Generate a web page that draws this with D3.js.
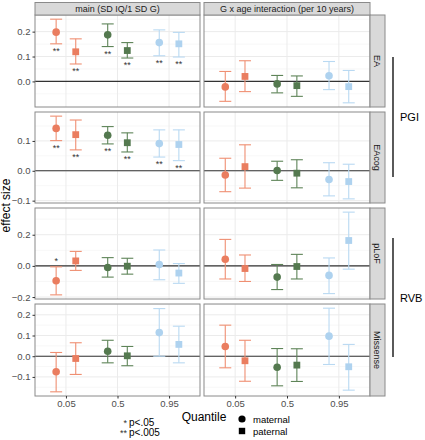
<!DOCTYPE html>
<html><head><meta charset="utf-8">
<script src="https://cdn.jsdelivr.net/npm/d3@7"></script>
<style>body{margin:0;background:#fff;} svg{display:block;font-family:"Liberation Sans",Arial,sans-serif;}</style>
</head><body>
<svg id="chart" width="425" height="440"></svg>
<script>
// ---------- data ----------
const quantiles = ["0.05", "0.5", "0.95"];
const parents = ["maternal", "paternal"];
const scores = ["EA", "EAcog", "pLoF", "Missense"];
const effects = ["main (SD IQ/1 SD G)", "G x age interaction (per 10 years)"];
const groups = ["PGI", "RVB"];
const groupScores = [["EA", "EAcog"], ["pLoF", "Missense"]];
// point order in each row: q0.05 mat, q0.05 pat, q0.5 mat, q0.5 pat, q0.95 mat, q0.95 pat
const mainEst = [
  [0.198, 0.119, 0.187, 0.124, 0.156, 0.151],
  [0.142, 0.121, 0.119, 0.094, 0.091, 0.088],
  [-0.095, 0.032, -0.010, -0.002, 0.009, -0.046],
  [-0.075, -0.011, 0.024, 0.002, 0.114, 0.057]
];
const mainLo = [
  [0.151, 0.070, 0.140, 0.094, 0.103, 0.098],
  [0.101, 0.070, 0.090, 0.063, 0.046, 0.034],
  [-0.186, -0.029, -0.072, -0.053, -0.089, -0.112],
  [-0.172, -0.088, -0.032, -0.046, 0.000, -0.032]
];
const mainHi = [
  [0.250, 0.171, 0.231, 0.156, 0.207, 0.197],
  [0.183, 0.170, 0.148, 0.127, 0.137, 0.137],
  [-0.006, 0.093, 0.053, 0.049, 0.102, 0.015],
  [0.018, 0.065, 0.077, 0.047, 0.230, 0.145]
];
const intEst = [
  [-0.022, 0.020, -0.010, -0.017, 0.023, -0.021],
  [-0.014, 0.014, 0.001, -0.008, -0.029, -0.036],
  [0.043, -0.017, -0.072, -0.004, -0.061, 0.163],
  [0.047, -0.022, -0.053, -0.043, 0.097, -0.051]
];
const intLo = [
  [-0.080, -0.041, -0.046, -0.060, -0.033, -0.086],
  [-0.070, -0.058, -0.032, -0.057, -0.084, -0.094],
  [-0.084, -0.100, -0.152, -0.084, -0.178, -0.021],
  [-0.056, -0.121, -0.143, -0.122, -0.040, -0.164]
];
const intHi = [
  [0.040, 0.083, 0.024, 0.022, 0.080, 0.044],
  [0.042, 0.087, 0.032, 0.037, 0.027, 0.022],
  [0.170, 0.070, 0.009, 0.074, 0.051, 0.345],
  [0.150, 0.077, 0.037, 0.036, 0.232, 0.057]
];
const mainSig = [
  ["**", "**", "**", "**", "**", "**"],
  ["**", "**", "**", "**", "**", "**"],
  ["*", "", "", "", "", ""],
  ["", "", "", "", "", ""]
];
const intSig = [
  ["", "", "", "", "", ""], ["", "", "", "", "", ""],
  ["", "", "", "", "", ""], ["", "", "", "", "", ""]
];
const yTicks = [[0, 0.1, 0.2], [-0.1, 0, 0.1], [-0.2, 0, 0.2], [-0.1, 0, 0.1, 0.2]];
const yMinor = [[-0.05, 0.05, 0.15, 0.25], [-0.05, 0.05, 0.15], [-0.1, 0.1, 0.3], [-0.15, -0.05, 0.05, 0.15, 0.25]];
const sigLegend = [["*", "p<.05"], ["**", "p<.005"]];

// ---------- styles ----------
const lineCol = {"0.05": "#EF8F72", "0.5": "#5E8458", "0.95": "#B9D9F2"};
const ptCol = {"0.05": "#EA7D5F", "0.5": "#54794F", "0.95": "#AED2EF"};

const svg = d3.select("#chart");
const colX = [[35, 200], [204, 370]];
const rowY = [[15, 107], [112, 203], [208, 299], [304, 396]];

const estAll = [mainEst, intEst], loAll = [mainLo, intLo], hiAll = [mainHi, intHi], sigAll = [mainSig, intSig];

// y scales per row (free), ggplot-like 5% expansion over both panels
const yScales = rowY.map((ry, r) => {
  const vals = [].concat(mainLo[r], mainHi[r], intLo[r], intHi[r]);
  const mn = d3.min(vals), mx = d3.max(vals), pad = (mx - mn) * 0.05;
  return d3.scaleLinear().domain([mn - pad, mx + pad]).range([ry[1], ry[0]]);
});

const xScales = colX.map(cx => d3.scalePoint().domain(quantiles).range(cx).padding(0.6));

// panels
rowY.forEach((ry, r) => {
  const y = yScales[r];
  colX.forEach((cx, c) => {
    const x = xScales[c];
    const g = svg.append("g");
    g.append("rect").attr("x", cx[0]).attr("y", ry[0]).attr("width", cx[1] - cx[0]).attr("height", ry[1] - ry[0]).attr("fill", "#fff");
    // minor grid
    yMinor[r].filter(v => y(v) > ry[0] && y(v) < ry[1]).forEach(v => {
      g.append("line").attr("x1", cx[0]).attr("x2", cx[1]).attr("y1", y(v)).attr("y2", y(v)).attr("stroke", "#F2F2F2").attr("stroke-width", 0.6);
    });
    yTicks[r].forEach(v => {
      g.append("line").attr("x1", cx[0]).attr("x2", cx[1]).attr("y1", y(v)).attr("y2", y(v)).attr("stroke", "#EBEBEB").attr("stroke-width", 1);
    });
    quantiles.forEach(q => {
      g.append("line").attr("x1", x(q)).attr("x2", x(q)).attr("y1", ry[0]).attr("y2", ry[1]).attr("stroke", "#EBEBEB").attr("stroke-width", 1);
    });
    // zero line
    g.append("line").attr("x1", cx[0]).attr("x2", cx[1]).attr("y1", y(0)).attr("y2", y(0)).attr("stroke", "#333").attr("stroke-width", 1.1);

    const step = x.step();
    const pts = [];
    quantiles.forEach((q, qi) => parents.forEach((p, pi) => {
      const i = qi * 2 + pi;
      pts.push({q, p, est: estAll[c][r][i], lo: loAll[c][r][i], hi: hiAll[c][r][i], sig: sigAll[c][r][i],
        xp: x(q) + (pi === 0 ? -0.19 : 0.19) * step});
    }));
    const capW = 6;
    pts.forEach(d => {
      const eg = g.append("g").attr("stroke", lineCol[d.q]).attr("stroke-width", 1.1).attr("fill", "none");
      eg.append("line").attr("x1", d.xp).attr("x2", d.xp).attr("y1", y(d.lo)).attr("y2", y(d.hi));
      eg.append("line").attr("x1", d.xp - capW).attr("x2", d.xp + capW).attr("y1", y(d.lo)).attr("y2", y(d.lo));
      eg.append("line").attr("x1", d.xp - capW).attr("x2", d.xp + capW).attr("y1", y(d.hi)).attr("y2", y(d.hi));
      if (d.p === "maternal") {
        g.append("circle").attr("cx", d.xp).attr("cy", y(d.est)).attr("r", 3.8).attr("fill", ptCol[d.q]);
      } else {
        g.append("rect").attr("x", d.xp - 3.4).attr("y", y(d.est) - 3.4).attr("width", 6.8).attr("height", 6.8).attr("fill", ptCol[d.q]);
      }
      if (d.sig) {
        const ys = d.est >= 0 ? y(d.lo) + 10 : y(d.hi) - 3;
        g.append("text").attr("x", d.xp).attr("y", ys).attr("text-anchor", "middle").attr("font-size", 9).attr("fill", "#333").text(d.sig);
      }
    });
    g.append("rect").attr("x", cx[0]).attr("y", ry[0]).attr("width", cx[1] - cx[0]).attr("height", ry[1] - ry[0]).attr("fill", "none").attr("stroke", "#8a8a8a").attr("stroke-width", 1);
  });
  // y axis
  const ax = svg.append("g").attr("transform", `translate(${colX[0][0]},0)`)
    .call(d3.axisLeft(y).tickValues(yTicks[r]).tickSize(2.5).tickPadding(2).tickFormat(d3.format(".1f")));
  ax.select(".domain").remove();
  ax.selectAll("line").attr("stroke", "#333");
  ax.selectAll("text").attr("font-size", 9.5).attr("fill", "#4D4D4D").attr("font-family", "Liberation Sans, Arial, sans-serif")
    .text(d => d < 0 ? "\u2212" + Math.abs(d).toFixed(1) : d.toFixed(1));
  // right strip
  svg.append("rect").attr("x", 370).attr("y", ry[0]).attr("width", 15).attr("height", ry[1] - ry[0]).attr("fill", "#D9D9D9").attr("stroke", "#8a8a8a").attr("stroke-width", 1);
  svg.append("text").attr("transform", `translate(${374},${(ry[0] + ry[1]) / 2}) rotate(90)`).attr("text-anchor", "middle")
    .attr("font-size", 9).attr("fill", "#1A1A1A").text(scores[r]);
});

// top strips
colX.forEach((cx, c) => {
  svg.append("rect").attr("x", cx[0]).attr("y", 2.5).attr("width", cx[1] - cx[0]).attr("height", 12.5).attr("fill", "#D9D9D9").attr("stroke", "#8a8a8a").attr("stroke-width", 1);
  svg.append("text").attr("x", (cx[0] + cx[1]) / 2).attr("y", 12).attr("text-anchor", "middle").attr("font-size", 9).attr("fill", "#1A1A1A").text(effects[c]);
});

// x axes
colX.forEach((cx, c) => {
  const ax = svg.append("g").attr("transform", `translate(0,${rowY[3][1]})`)
    .call(d3.axisBottom(xScales[c]).tickSize(2.5).tickPadding(2));
  ax.select(".domain").remove();
  ax.selectAll("line").attr("stroke", "#333");
  ax.selectAll("text").attr("font-size", 9.5).attr("fill", "#4D4D4D").attr("font-family", "Liberation Sans, Arial, sans-serif");
});

// axis titles
svg.append("text").attr("transform", `translate(10,${(rowY[0][0] + rowY[3][1]) / 2}) rotate(-90)`).attr("text-anchor", "middle")
  .attr("font-size", 12).attr("fill", "#000").text("effect size");
svg.append("text").attr("x", 204).attr("y", 421).attr("text-anchor", "middle").attr("font-size", 12).attr("fill", "#000").text("Quantile");

// group brackets
groups.forEach((gname, gi) => {
  const yTop = gi === 0 ? 57 : 238, yBot = gi === 0 ? 177 : 357;
  svg.append("line").attr("x1", 393).attr("x2", 393).attr("y1", yTop).attr("y2", yBot).attr("stroke", "#000").attr("stroke-width", 1.3);
  svg.append("text").attr("x", 400).attr("y", (yTop + yBot) / 2 + 4).attr("font-size", 11).attr("fill", "#000").text(gname);
});

// significance legend
sigLegend.forEach((d, i) => {
  const yy = 426 + i * 10;
  svg.append("text").attr("x", 127).attr("y", yy).attr("text-anchor", "end").attr("font-size", 9).attr("fill", "#333").text(d[0]);
  svg.append("text").attr("x", 129).attr("y", yy).attr("font-size", 10).attr("fill", "#000").text(d[1]);
});

// shape legend
parents.forEach((p, i) => {
  const yy = 419 + i * 12;
  if (i === 0) svg.append("circle").attr("cx", 242).attr("cy", yy).attr("r", 3.6).attr("fill", "#000");
  else svg.append("rect").attr("x", 238.8).attr("y", yy - 3.2).attr("width", 6.4).attr("height", 6.4).attr("fill", "#000");
  svg.append("text").attr("x", 253).attr("y", yy + 3.5).attr("font-size", 9.5).attr("fill", "#000").text(p);
});
</script>
</body></html>
